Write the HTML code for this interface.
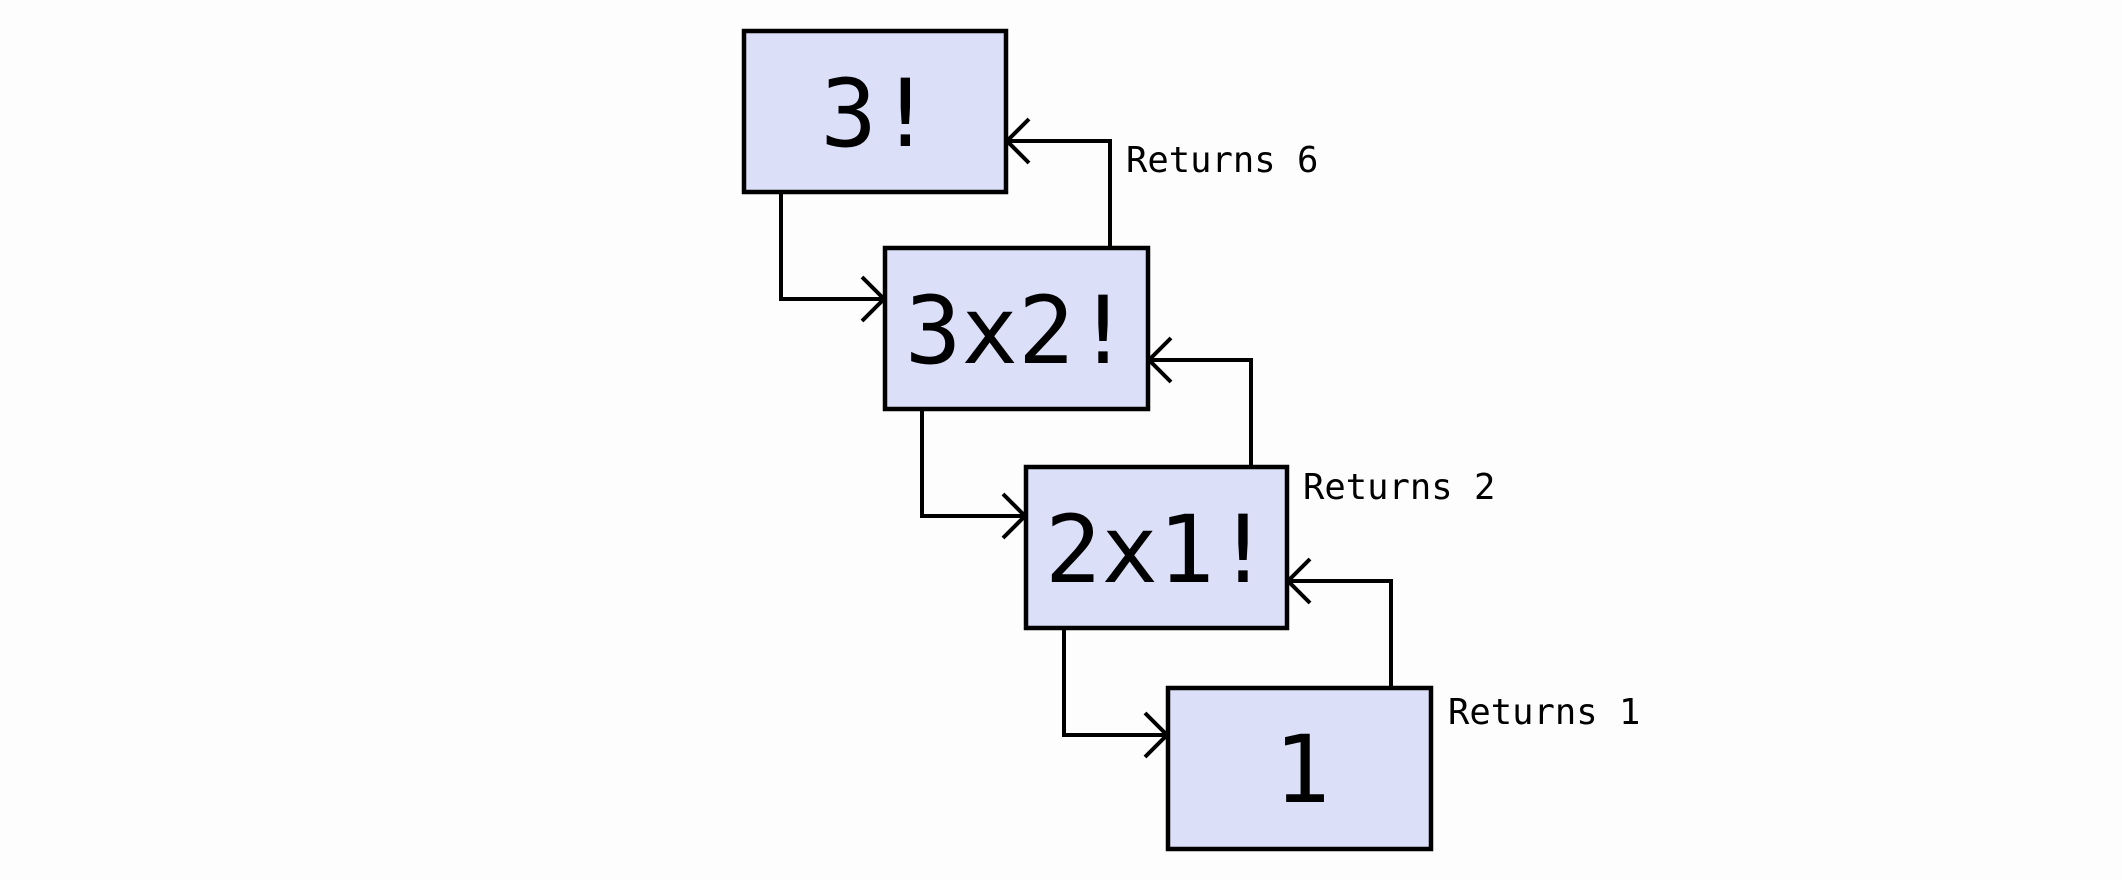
<!DOCTYPE html>
<html><head><meta charset="utf-8"><style>
html,body{margin:0;padding:0;background:#fdfdfd;}
svg{display:block;}
.b{fill:#dbdff8;stroke:#000;stroke-width:4.5;}
.l{fill:none;stroke:#000;stroke-width:4;}
.t{font-family:"DejaVu Sans Mono","Liberation Mono",monospace;font-size:94px;text-anchor:middle;fill:#000;}
.r{font-family:"DejaVu Sans Mono","Liberation Mono",monospace;font-size:35.5px;fill:#000;}
</style></head><body>
<svg width="2122" height="880" viewBox="0 0 2122 880">
<rect class="b" x="744" y="31" width="262" height="161"/>
<rect class="b" x="885" y="248" width="263" height="161"/>
<rect class="b" x="1026" y="467" width="261" height="161"/>
<rect class="b" x="1168" y="688" width="263" height="161"/>
<text class="t" x="877" y="146">3!</text>
<text class="t" x="1018" y="363">3x2!</text>
<text class="t" x="1158" y="582">2x1!</text>
<text class="t" x="1302" y="802">1</text>
<path class="l" d="M781 192 V299 H883"/>
<path class="l" d="M862 277 L884 299 L862 321"/>
<path class="l" d="M922 409 V516 H1024"/>
<path class="l" d="M1003 494 L1025 516 L1003 538"/>
<path class="l" d="M1064 628 V735 H1166"/>
<path class="l" d="M1145 713 L1167 735 L1145 757"/>
<path class="l" d="M1110 248 V141 H1008"/>
<path class="l" d="M1029 119 L1007 141 L1029 163"/>
<path class="l" d="M1251 467 V360 H1150"/>
<path class="l" d="M1171 338 L1149 360 L1171 382"/>
<path class="l" d="M1391 688 V581 H1289"/>
<path class="l" d="M1310 559 L1288 581 L1310 603"/>
<text class="r" x="1126" y="172">Returns 6</text>
<text class="r" x="1303" y="499">Returns 2</text>
<text class="r" x="1448" y="724">Returns 1</text>
</svg>
</body></html>
